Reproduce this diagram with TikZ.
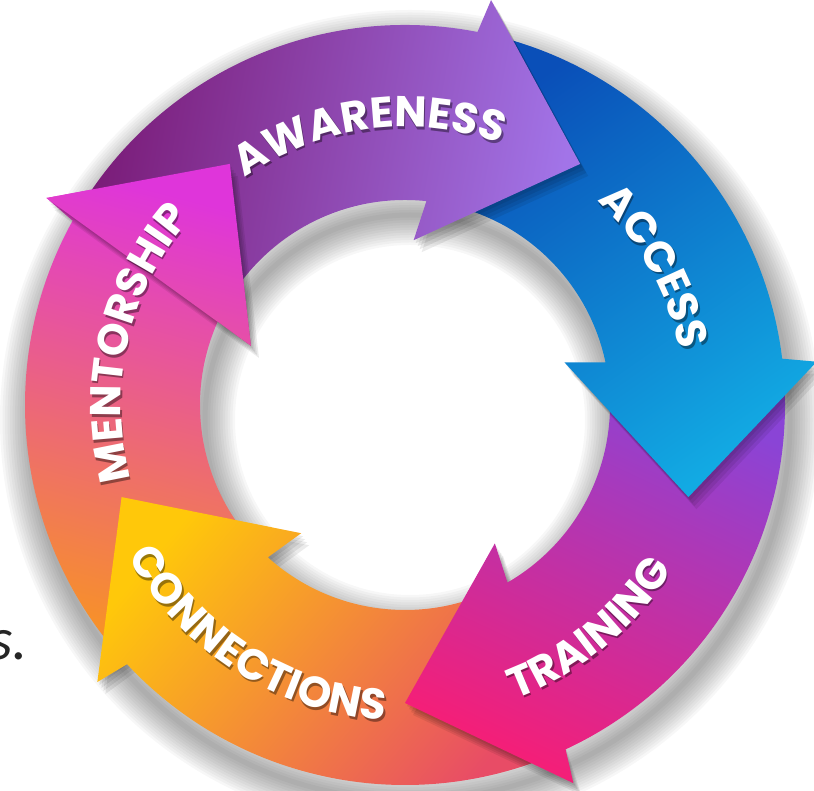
\documentclass[tikz,border=0pt]{standalone}
\usepackage{fontspec}
\setmainfont{Poppins}
\newfontfamily\notefont{Carlito}
\usetikzlibrary{decorations.text}

\definecolor{awaredark}{HTML}{7A1B77}
\definecolor{awaremid}{HTML}{8C47B4}
\definecolor{awarelight}{HTML}{A274E8}
\definecolor{accessdark}{HTML}{0A4FB8}
\definecolor{accesslight}{HTML}{12AAE3}
\definecolor{traintop}{HTML}{8A44D6}
\definecolor{trainmid}{HTML}{C03AAE}
\definecolor{trainlow}{HTML}{F61E76}
\definecolor{connred}{HTML}{E84C66}
\definecolor{connorange}{HTML}{F7961F}
\definecolor{connyellow}{HTML}{FFC80A}
\definecolor{mentororange}{HTML}{F7902A}
\definecolor{mentorpink}{HTML}{EE5A86}
\definecolor{mentormagenta}{HTML}{DF35DA}

\newcommand{\labelfont}{\bfseries\fontsize{43}{43}\selectfont}

% curved label with a soft drop shadow
\newcommand{\ringlabel}[4]{%
  \begin{scope}[fill opacity=0.4]
    \path[decorate, decoration={text along path, text align=center,
      text color=black, text={|\labelfont|#1}}, shift={(1.5,-2.5)}]
      ({#3}:#2) arc[start angle=#3, end angle=#4, radius=#2];
  \end{scope}
  \path[decorate, decoration={text along path, text align=center,
    text color=white, text={|\labelfont|#1}}]
    ({#3}:#2) arc[start angle=#3, end angle=#4, radius=#2];
}

\tikzset{
  ringarrow/.style={insert path={({#1+70}:380) arc[start angle={#1+70}, end angle={#1+1}, radius=380]
    -- (#1:414) -- ({#1-24}:298) -- ({#1+9}:165) -- ({#1+6}:205)
    arc[start angle={#1+6}, end angle={#1+70}, radius=205] -- cycle}},
  ringhead/.style={insert path={(#1:414) -- ({#1-24}:298) -- ({#1+9}:165) -- cycle}},
  headshadow/.style={fill=black, opacity=0.08}
}

\begin{document}
\begin{tikzpicture}[x=1pt, y=1pt]
  \useasboundingbox (0,0) rectangle (814,791);
  \clip (0,0) rectangle (814,791);
  \coordinate (c) at (405,386);

  % soft shadow of the ring
  \foreach \k in {1,...,12}
    \draw[black, opacity=0.03, line width=\k*5] ([shift={(5,-15)}]c) circle[radius=380]
      ([shift={(5,-15)}]c) circle[radius=205];

  \begin{scope}[shift={(c)}]
    % Mentorship
    \shade[top color=mentormagenta, middle color=mentorpink, bottom color=mentororange,
      shading angle=-15] [ringarrow=150];

    % Connections
    \foreach \k in {1,2,3,4} \fill[headshadow, shift={(\k*2,-\k*3)}] [ringhead=-138];
    \shade[top color=connyellow, middle color=connorange, bottom color=connred,
      shading angle=50] [ringarrow=-138];

    % Training
    \foreach \k in {1,2,3,4} \fill[headshadow, shift={(\k*2,-\k*3)}] [ringhead=-66];
    \shade[top color=traintop, middle color=trainmid, bottom color=trainlow,
      shading angle=-25] [ringarrow=-66];

    % Access
    \foreach \k in {1,2,3,4} \fill[headshadow, shift={(\k*2,-\k*3)}] [ringhead=6];
    \shade[top color=accessdark, bottom color=accesslight, shading angle=35] [ringarrow=6];

    % Awareness
    \foreach \k in {1,2,3,4} \fill[headshadow, shift={(\k*2,-\k*3)}] [ringhead=78];
    \shade[top color=awaredark, middle color=awaremid, bottom color=awarelight,
      shading angle=80] [ringarrow=78];

    % Mentorship head on top of the awareness tail
    \foreach \k in {1,2,3,4} \fill[headshadow, shift={(\k*2,-\k*3)}] [ringhead=150];
    \begin{scope}
      \clip [ringhead=150];
      \shade[top color=mentormagenta, middle color=mentorpink, bottom color=mentororange,
        shading angle=-15] [ringarrow=150];
    \end{scope}

    % Labels
    \ringlabel{AWARENESS}{278}{132}{63}
    \ringlabel{ACCESS}{280}{58}{0}
    \ringlabel{TRAINING}{314}{-78}{-23}
    \ringlabel{CONNECTIONS}{316}{-165}{-80}
    \ringlabel{MENTORSHIP}{284}{203}{131}
  \end{scope}

  % cut-off text at the left edge
  \node[anchor=base east, inner sep=0pt, text=black!85] (note) at (28,131)
    {\notefont\itshape\fontsize{60}{60}\selectfont es.};
\end{tikzpicture}
\end{document}
